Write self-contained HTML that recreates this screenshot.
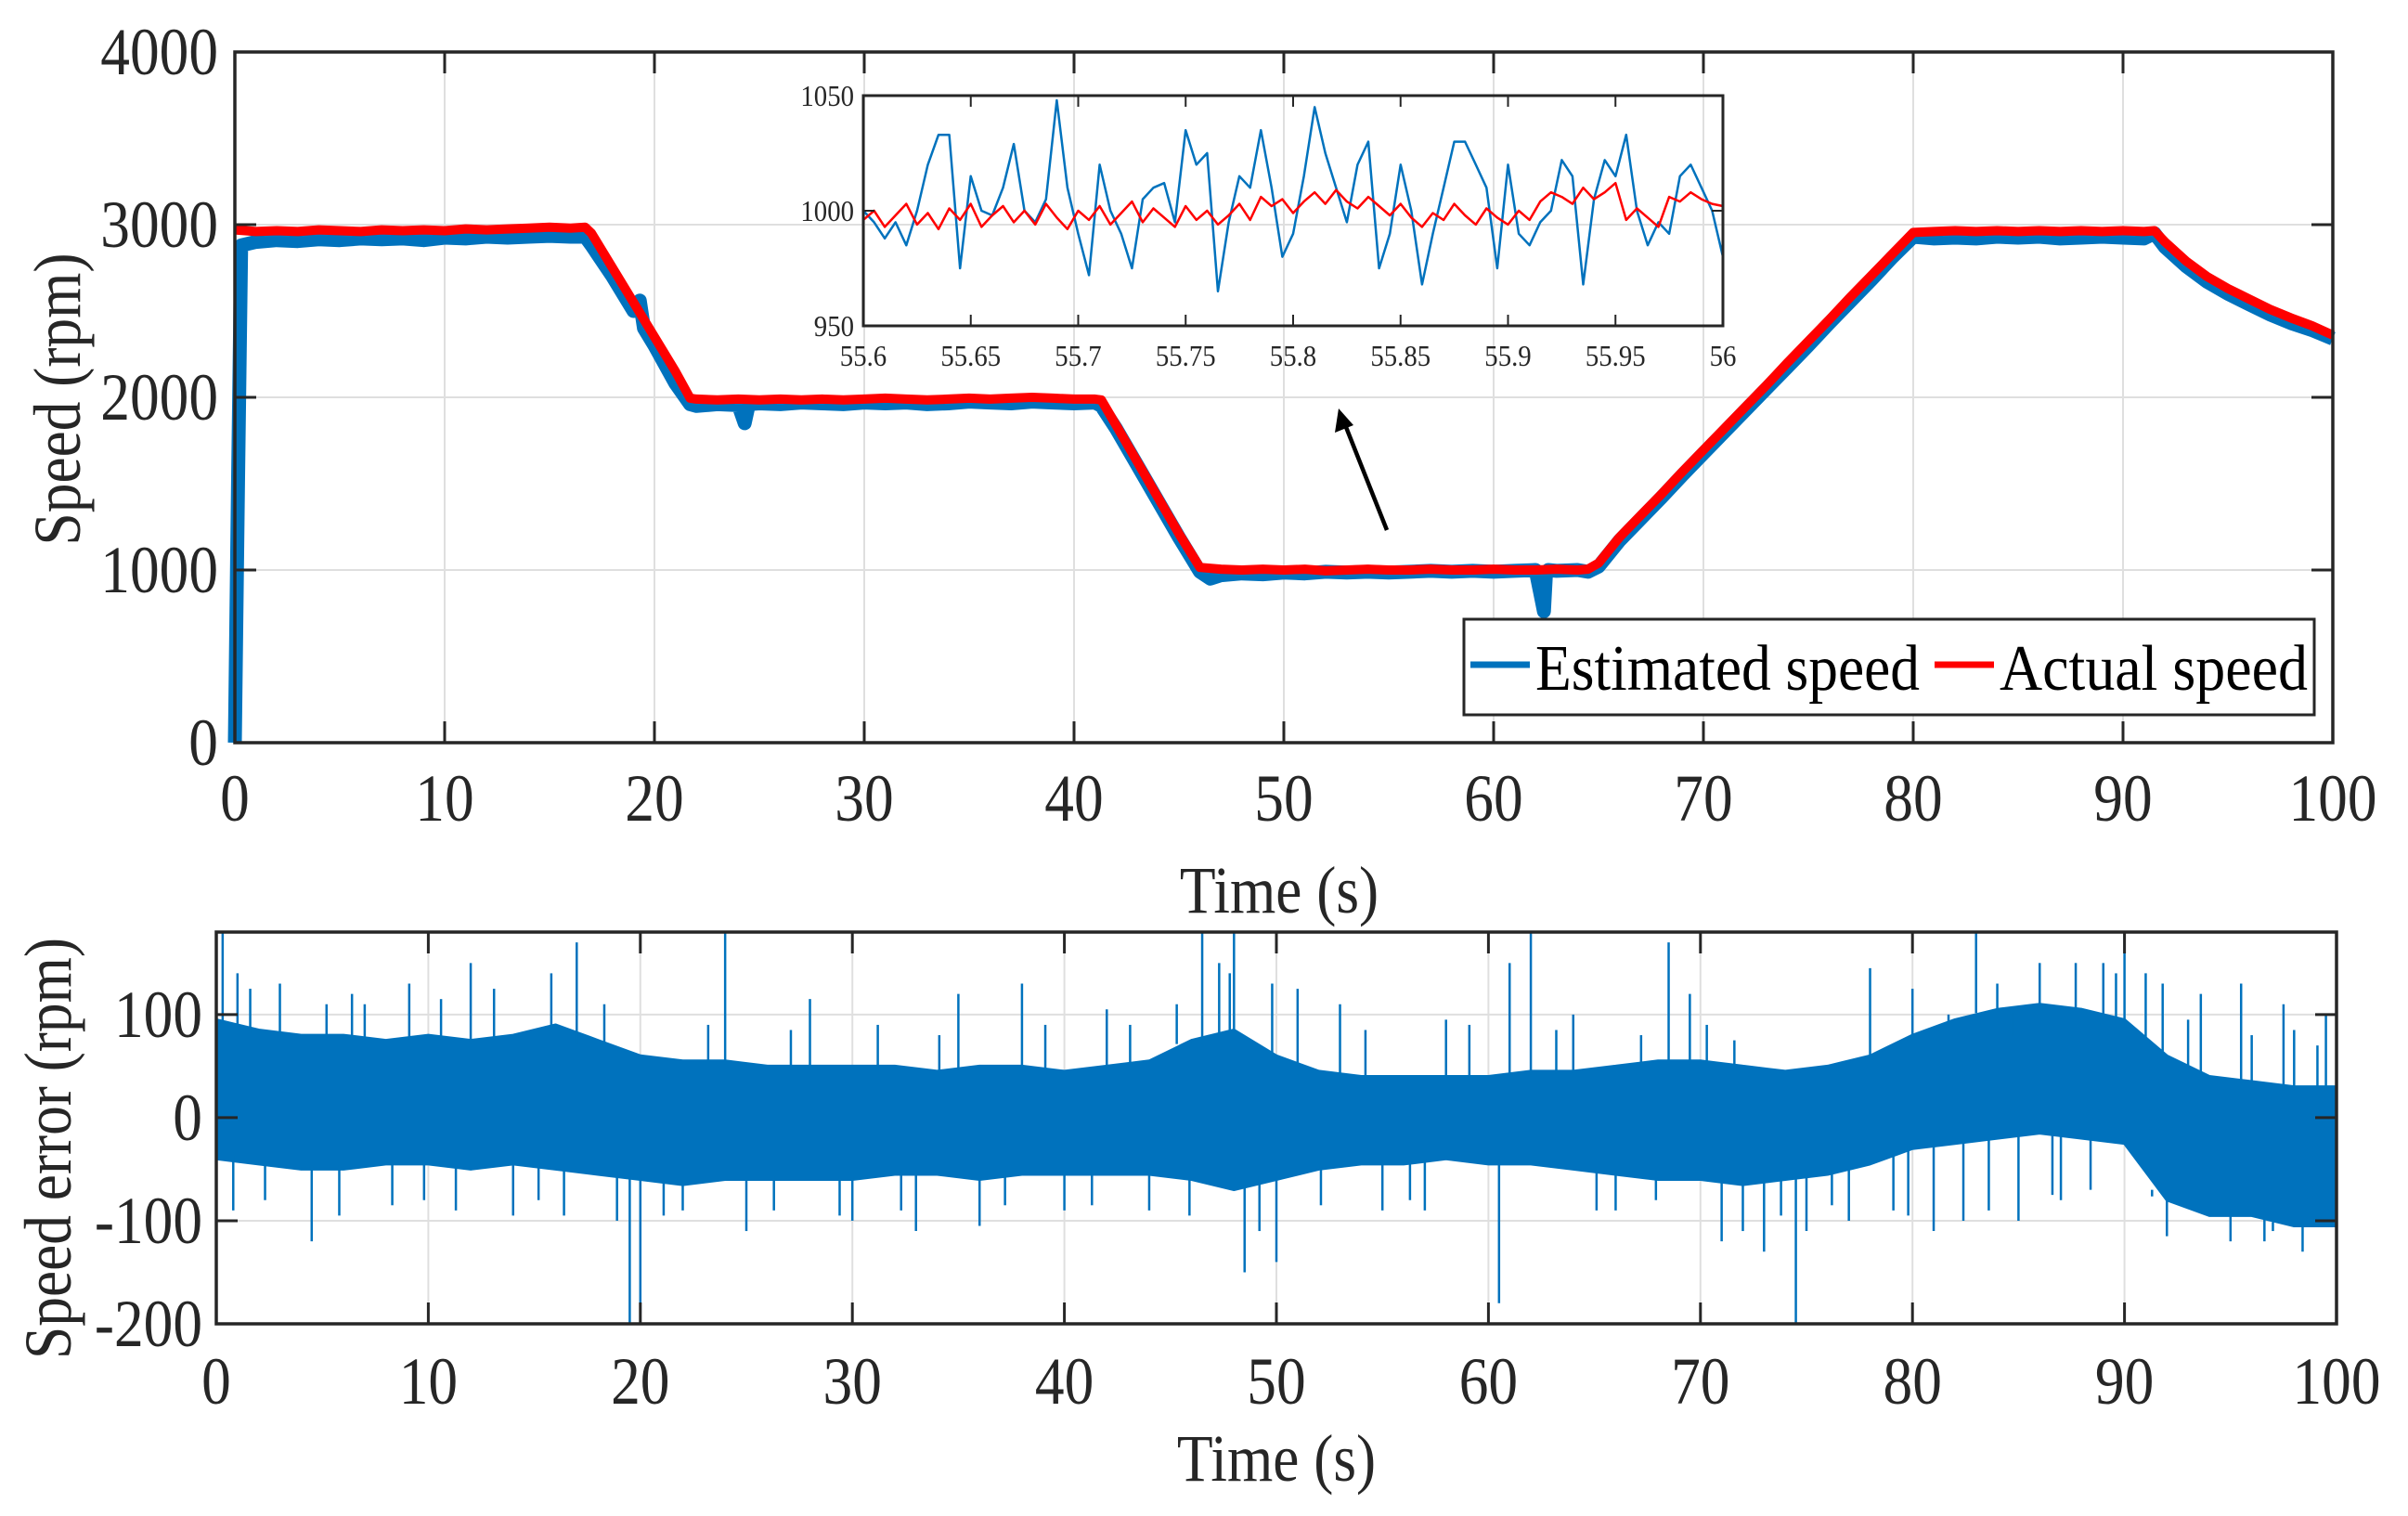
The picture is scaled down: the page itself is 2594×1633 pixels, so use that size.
<!DOCTYPE html>
<html><head><meta charset="utf-8"><style>
html,body{margin:0;padding:0;background:#fff;}
svg{display:block;font-family:"Liberation Serif",serif;}
</style></head><body>
<svg id="chart" width="2594" height="1633" viewBox="0 0 2594 1633" xmlns="http://www.w3.org/2000/svg">
<rect width="2594" height="1633" fill="#fff"/>
<g id="gTop"></g>
<g id="gInset"></g>
<g id="gBot"></g>
</svg>
<script>
// ---------- Data ----------
const xTicks = [0,10,20,30,40,50,60,70,80,90,100];
const speedTicks = [0,1000,2000,3000,4000];
const errTicks = [-200,-100,0,100];
const insetXTicks = [55.6,55.65,55.7,55.75,55.8,55.85,55.9,55.95,56];
const insetXLabels = ["55.6","55.65","55.7","55.75","55.8","55.85","55.9","55.95","56"];
const insetYTicks = [950,1000,1050];

const estTime = [0,0.15,0.3,1,2,3,4,5,6,7,8,9,10,11,12,13,14,15,16,16.7,17,18,19,19.3,19.5,20,21,21.7,22,23,24,24.3,24.5,25,26,27,28,29,30,31,32,33,34,35,36,37,38,39,40,41,41.3,42,43,44,45,46,46.5,47,48,49,50,51,52,53,54,55,56,57,58,59,60,61,62,62.4,62.5,62.6,63,64,64.5,65,66,67,68,69,70,71,72,73,74,75,76,77,78,79,80,81,82,83,84,85,86,87,88,89,90,91,91.5,92,93,94,95,96,97,98,99,100];
const estSpeed = [0,1500,2880,2900,2910,2905,2915,2910,2920,2915,2920,2910,2925,2920,2930,2925,2930,2935,2930,2930,2880,2700,2500,2560,2400,2300,2080,1960,1950,1960,1955,1850,1960,1965,1960,1970,1965,1960,1970,1965,1970,1960,1965,1975,1970,1965,1975,1970,1965,1970,1950,1820,1610,1400,1190,990,950,970,980,975,985,980,990,985,990,985,990,995,990,995,990,995,1000,760,990,1000,995,1000,990,1020,1170,1295,1420,1550,1675,1800,1925,2050,2175,2300,2430,2555,2680,2810,2930,2920,2925,2920,2930,2925,2930,2920,2925,2930,2925,2920,2950,2870,2760,2670,2600,2540,2480,2430,2390,2340];
const actTime = [0,1,2,3,4,5,6,7,8,9,10,11,12,13,14,15,16,16.7,17,18,19,20,21,21.7,22,23,24,25,26,27,28,29,30,31,32,33,34,35,36,37,38,39,40,41,41.3,42,43,44,45,46,47,48,49,50,51,52,53,54,55,56,57,58,59,60,61,62,63,64,64.5,65,66,67,68,69,70,71,72,73,74,75,76,77,78,79,80,81,82,83,84,85,86,87,88,89,90,91,91.5,92,93,94,95,96,97,98,99,100];
const actSpeed = [2970,2960,2965,2960,2970,2965,2960,2970,2965,2970,2965,2975,2970,2975,2980,2985,2980,2985,2950,2750,2550,2350,2150,1995,1990,1985,1990,1985,1990,1985,1990,1985,1990,1995,1990,1985,1990,1995,1990,1995,2000,1995,1990,1990,1985,1840,1630,1420,1210,1015,1005,1000,1005,1000,1005,995,1000,1005,1000,1000,1005,1000,1000,1005,1000,1000,1005,1000,1005,1040,1190,1315,1440,1570,1695,1820,1945,2070,2200,2325,2450,2580,2705,2830,2955,2960,2965,2960,2965,2960,2965,2960,2965,2960,2965,2960,2965,2900,2790,2700,2630,2570,2510,2460,2415,2360];

const insetTime = Array.from({length:81},(_,i)=>55.6+i*0.005);
const insetEst = [1000,995,988,995,985,1000,1020,1033,1033,975,1015,1000,998,1010,1029,1000,995,1005,1048,1010,990,972,1020,1000,990,975,1005,1010,1012,995,1035,1020,1025,965,995,1015,1010,1035,1010,980,990,1015,1045,1025,1010,995,1020,1030,975,990,1020,1000,968,990,1010,1030,1030,1020,1010,975,1020,990,985,995,1000,1022,1015,968,1005,1022,1015,1033,1000,985,995,990,1015,1020,1010,1000,980];
const insetAct = [996,1000,993,998,1003,994,999,992,1001,996,1003,993,998,1002,995,1000,994,1003,997,992,1000,996,1002,994,999,1004,995,1001,997,993,1002,996,1000,994,998,1003,996,1006,1002,1005,999,1004,1008,1003,1009,1004,1001,1006,1002,998,1003,997,993,999,996,1003,998,994,1001,997,994,1000,996,1004,1008,1006,1003,1010,1005,1008,1012,996,1001,997,993,1006,1004,1008,1005,1003,1002];

const errBandTime = [0,2,4,6,8,10,12,14,16,18,20,22,24,26,28,30,32,34,36,38,40,42,44,46,48,50,52,54,56,58,60,62,64,66,68,70,72,74,76,78,80,82,84,86,88,90,92,94,96,98,100];
const errUpper = [95,85,80,80,75,80,75,80,90,75,60,55,55,50,50,50,50,45,50,50,45,50,55,75,85,60,45,40,40,40,40,45,45,50,55,55,50,45,50,60,80,95,105,110,105,95,60,40,35,30,30];
const errLower = [-40,-45,-50,-50,-45,-45,-50,-45,-50,-55,-60,-65,-60,-60,-60,-60,-55,-55,-60,-55,-55,-55,-55,-60,-70,-60,-50,-45,-45,-40,-45,-45,-50,-55,-60,-60,-65,-60,-55,-45,-30,-25,-20,-15,-20,-25,-80,-95,-95,-105,-105];
const spikeTime = [0.3,1,3,4.5,7,12,14,17,19.5,20,22,24,25,28,30,33,35,36,38,40,42,44,46.5,47.3,48,48.5,50,51,53,55,57,58,60.5,61,62,64,66,68.5,69.5,71,72,73,74.5,75,77,78,80,81,83,84,85,86,87,89,90,91,92,93,95,96,97,98,99.5,100,
  0.8,1.6,2.3,5.2,5.8,6.4,8.3,9.1,9.8,10.6,11.3,13.1,15.2,15.8,16.4,18.3,18.9,21.1,23.2,26.3,27.1,29.4,31.2,32.3,34.1,37.2,39.1,41.3,43.1,45.3,45.9,47.8,49.2,49.8,52.1,54.2,56.3,59.1,63.2,65.1,67.2,67.9,70.3,71.6,73.8,76.2,79.1,79.8,81.7,82.4,83.6,84.7,85.6,86.6,87.7,88.4,89.6,91.3,91.8,92.6,93.6,94.4,95.5,96.6,97.5,98.4,99.1];
const spikeVal = [180,140,130,-120,110,150,-95,170,-200,-190,-90,180,-110,115,-100,-110,120,-105,130,-90,105,-90,180,150,180,-150,-140,125,110,-90,-90,95,-180,150,180,100,-90,170,120,-120,-110,-130,-200,-110,-100,145,125,-110,180,130,-100,150,-80,150,180,140,-115,95,-120,80,-110,85,100,-120,
  -90,125,-80,110,-95,120,-85,130,-80,115,-90,125,-80,140,-95,110,-100,-95,90,-90,85,-95,90,-90,80,-85,90,-85,90,110,-95,140,-110,130,-85,85,-80,90,85,-90,80,-80,90,75,-95,-85,-90,-95,100,-100,-90,80,110,-75,150,-70,140,-70,130,-80,120,-75,130,-120,110,-130,70,-125,60,-120,70];

// ---------- Helpers ----------
const NS = "http://www.w3.org/2000/svg";
const TXT = "#262626";
function mk(parent, tag, attrs){ const e=document.createElementNS(NS,tag); for(const k in attrs) e.setAttribute(k,attrs[k]); parent.appendChild(e); return e; }
function squeeze(e,f){ const w=e.getComputedTextLength(); if(w>0){ e.setAttribute('textLength', (w*f).toFixed(1)); e.setAttribute('lengthAdjust','spacingAndGlyphs'); } }
function pts(ts, vs, fx, fy){ return ts.map((t,i)=>fx(t).toFixed(1)+','+fy(vs[i]).toFixed(1)).join(' '); }

// ---------- Top plot ----------
const gT = document.getElementById('gTop');
const T = {l:253, r:2513, t:56, b:800};
const xT = t => T.l + (t-0)/100*(T.r-T.l);
const yT = v => T.b - v/4000*(T.b-T.t);
xTicks.forEach(t=>{ const e=mk(gT,'line',{x1:xT(t),x2:xT(t),y1:T.t,y2:T.b,stroke:'#dfdfdf','stroke-width':2});
    });
speedTicks.forEach(v=>{ const e=mk(gT,'line',{x1:T.l,x2:T.r,y1:yT(v),y2:yT(v),stroke:'#dfdfdf','stroke-width':2});
    });
let p = mk(gT,'polyline',{points:pts(estTime,estSpeed,xT,yT),fill:'none',stroke:'#0072bd','stroke-width':15,'stroke-linejoin':'round'});
 
p = mk(gT,'polyline',{points:pts(actTime,actSpeed,xT,yT),fill:'none',stroke:'#ff0000','stroke-width':10,'stroke-linejoin':'round'});
 
xTicks.forEach(t=>{ mk(gT,'line',{x1:xT(t),x2:xT(t),y1:T.b,y2:T.b-23,stroke:TXT,'stroke-width':3}); mk(gT,'line',{x1:xT(t),x2:xT(t),y1:T.t,y2:T.t+23,stroke:TXT,'stroke-width':3});
  const e=mk(gT,'text',{x:xT(t),y:884,'font-size':72,fill:TXT,'text-anchor':'middle'}); e.textContent=String(t);
    squeeze(e,0.88); });
speedTicks.forEach(v=>{ mk(gT,'line',{x1:T.l,x2:T.l+23,y1:yT(v),y2:yT(v),stroke:TXT,'stroke-width':3}); mk(gT,'line',{x1:T.r,x2:T.r-23,y1:yT(v),y2:yT(v),stroke:TXT,'stroke-width':3});
  const e=mk(gT,'text',{x:235,y:yT(v)+24,'font-size':72,fill:TXT,'text-anchor':'end'}); e.textContent=String(v);
    squeeze(e,0.88); });
p = mk(gT,'rect',{x:T.l,y:T.t,width:T.r-T.l,height:T.b-T.t,fill:'none',stroke:TXT,'stroke-width':3.5});
 
p = mk(gT,'text',{x:1378,y:983,'font-size':72,fill:TXT,'text-anchor':'middle'}); p.textContent='Time (s)';
  squeeze(p,0.88);
p = mk(gT,'text',{x:0,y:0,'font-size':72,fill:TXT,'text-anchor':'middle',transform:'translate(86,430) rotate(-90)'}); p.textContent='Speed (rpm)';
  squeeze(p,0.88);
// legend
const lg = mk(gT,'g',{});  
mk(lg,'rect',{x:1577,y:667,width:916,height:103,fill:'#fff',stroke:TXT,'stroke-width':3});
p = mk(lg,'line',{x1:1584,x2:1648,y1:716,y2:716,stroke:'#0072bd','stroke-width':7});  
p = mk(lg,'text',{x:1654,y:743,'font-size':70,fill:'#000'}); p.textContent='Estimated speed';   p.setAttribute('textLength',414); p.setAttribute('lengthAdjust','spacingAndGlyphs');
p = mk(lg,'line',{x1:2084,x2:2148,y1:716,y2:716,stroke:'#ff0000','stroke-width':7});  
p = mk(lg,'text',{x:2154,y:743,'font-size':70,fill:'#000'}); p.textContent='Actual speed';   p.setAttribute('textLength',332); p.setAttribute('lengthAdjust','spacingAndGlyphs');
// arrow
p = mk(gT,'line',{x1:1494,y1:571,x2:1448,y2:455,stroke:'#000','stroke-width':4.5});  
p = mk(gT,'polygon',{points:'1442,440 1438,466 1458,458',fill:'#000'});  

// ---------- Inset ----------
const gI = document.getElementById('gInset');
const I = {l:930, r:1856, t:103, b:351};
const xI = t => I.l + (t-55.6)/0.4*(I.r-I.l);
const yI = v => I.b - (v-950)/100*(I.b-I.t);
p = mk(gI,'polyline',{points:pts(insetTime,insetEst,xI,yI),fill:'none',stroke:'#0072bd','stroke-width':2.5,'stroke-linejoin':'round'});
 
p = mk(gI,'polyline',{points:pts(insetTime,insetAct,xI,yI),fill:'none',stroke:'#ff0000','stroke-width':2.5,'stroke-linejoin':'round'});
 
insetXTicks.forEach((t,i)=>{ mk(gI,'line',{x1:xI(t),x2:xI(t),y1:I.b,y2:I.b-12,stroke:TXT,'stroke-width':2}); mk(gI,'line',{x1:xI(t),x2:xI(t),y1:I.t,y2:I.t+12,stroke:TXT,'stroke-width':2});
  const e=mk(gI,'text',{x:xI(t),y:394,'font-size':32,fill:TXT,'text-anchor':'middle'}); e.textContent=insetXLabels[i];
    squeeze(e,0.9); });
insetYTicks.forEach(v=>{ mk(gI,'line',{x1:I.l,x2:I.l+12,y1:yI(v),y2:yI(v),stroke:TXT,'stroke-width':2}); mk(gI,'line',{x1:I.r,x2:I.r-12,y1:yI(v),y2:yI(v),stroke:TXT,'stroke-width':2});
  const e=mk(gI,'text',{x:920,y:yI(v)+11,'font-size':32,fill:TXT,'text-anchor':'end'}); e.textContent=String(v);
    squeeze(e,0.9); });
p = mk(gI,'rect',{x:I.l,y:I.t,width:I.r-I.l,height:I.b-I.t,fill:'none',stroke:TXT,'stroke-width':3});
 

// ---------- Bottom plot ----------
const gB = document.getElementById('gBot');
const B = {l:233, r:2517, t:1004, b:1426};
const yMin=-200, yMax=180;
const xB = t => B.l + t/100*(B.r-B.l);
const yB = v => B.b - (v-yMin)/(yMax-yMin)*(B.b-B.t);
xTicks.forEach(t=>{ const e=mk(gB,'line',{x1:xB(t),x2:xB(t),y1:B.t,y2:B.b,stroke:'#dfdfdf','stroke-width':2});
    });
errTicks.forEach(v=>{ const e=mk(gB,'line',{x1:B.l,x2:B.r,y1:yB(v),y2:yB(v),stroke:'#dfdfdf','stroke-width':2});
    });
const clip = mk(gB,'clipPath',{id:'botClip'}); mk(clip,'rect',{x:B.l,y:B.t,width:B.r-B.l,height:B.b-B.t});
const gBd = mk(gB,'g',{'clip-path':'url(#botClip)'});  
const band = errBandTime.map((t,i)=>xB(t).toFixed(1)+','+yB(errUpper[i]).toFixed(1)).concat(errBandTime.slice().reverse().map((t,j)=>{const i=errBandTime.length-1-j; return xB(t).toFixed(1)+','+yB(errLower[i]).toFixed(1);})).join(' ');
p = mk(gBd,'polygon',{points:band,fill:'#0072bd',stroke:'#0072bd','stroke-width':3,'stroke-linejoin':'bevel'});
 
spikeTime.forEach((t,i)=>{ const k=Math.min(errUpper.length-1,Math.round(t/2)); const base = spikeVal[i]>0 ? errUpper[k] : errLower[k];
  const e=mk(gBd,'line',{x1:xB(t),x2:xB(t),y1:yB(base)+(spikeVal[i]>0?4:-4),y2:yB(spikeVal[i]),stroke:'#0072bd','stroke-width':2.5});
    });
xTicks.forEach(t=>{ mk(gB,'line',{x1:xB(t),x2:xB(t),y1:B.b,y2:B.b-23,stroke:TXT,'stroke-width':3}); mk(gB,'line',{x1:xB(t),x2:xB(t),y1:B.t,y2:B.t+23,stroke:TXT,'stroke-width':3});
  const e=mk(gB,'text',{x:xB(t),y:1512,'font-size':72,fill:TXT,'text-anchor':'middle'}); e.textContent=String(t);
    squeeze(e,0.88); });
errTicks.forEach(v=>{ mk(gB,'line',{x1:B.l,x2:B.l+23,y1:yB(v),y2:yB(v),stroke:TXT,'stroke-width':3}); mk(gB,'line',{x1:B.r,x2:B.r-23,y1:yB(v),y2:yB(v),stroke:TXT,'stroke-width':3});
  const e=mk(gB,'text',{x:218,y:yB(v)+24,'font-size':72,fill:TXT,'text-anchor':'end'}); e.textContent=String(v);
    squeeze(e,0.88); });
p = mk(gB,'rect',{x:B.l,y:B.t,width:B.r-B.l,height:B.b-B.t,fill:'none',stroke:TXT,'stroke-width':3.5});
 
p = mk(gB,'text',{x:1375,y:1595,'font-size':72,fill:TXT,'text-anchor':'middle'}); p.textContent='Time (s)';
  squeeze(p,0.88);
p = mk(gB,'text',{x:0,y:0,'font-size':72,fill:TXT,'text-anchor':'middle',transform:'translate(76,1237) rotate(-90)'}); p.textContent='Speed error (rpm)';
  squeeze(p,0.88);
</script>
</body></html>
